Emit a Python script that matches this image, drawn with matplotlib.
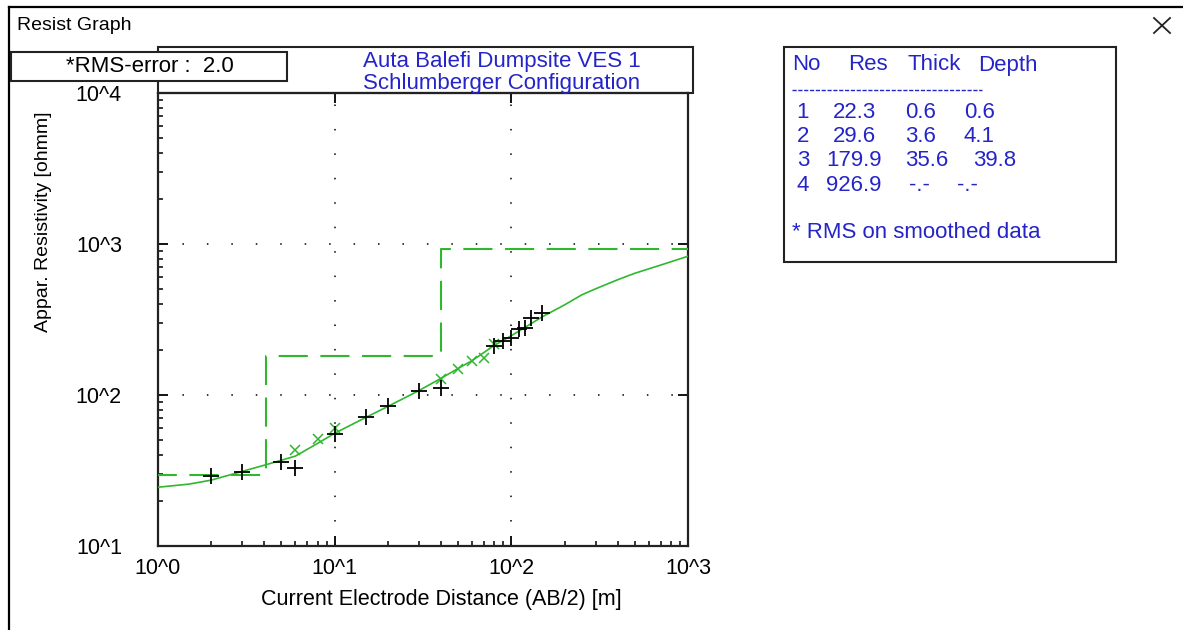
import numpy as np
import matplotlib
matplotlib.use("Agg")
import matplotlib.pyplot as plt
from matplotlib.patches import Rectangle
from matplotlib.lines import Line2D
from matplotlib.ticker import LogLocator, FuncFormatter, NullFormatter

# calculated model response (green line)
curve_ab2 = [1, 1.5, 2, 3, 4, 5, 6, 8, 10, 15, 20, 30, 40, 50, 60, 80, 100, 150,
             200, 250, 300, 400, 500, 700, 1000]
curve_res = [24.5, 25.7, 27.3, 31.2, 34.3, 37.0, 39.4, 47.8, 55.8, 71, 84, 107, 129, 150, 169, 213, 247, 330,
             395, 460, 505, 580, 640, 725, 830]

# field data (black +)
obs_ab2 = [2, 3, 5, 6, 10, 15, 20, 30, 40, 80, 90, 100, 110, 120, 130, 150]
obs_res = [29.3, 30.8, 35.8, 32.7, 55.5, 71, 85, 107, 112, 212, 229, 237, 274, 276, 322, 347]

# smoothed data (green x)
smooth_ab2 = [6, 8, 10, 40, 50, 60, 70, 80]
smooth_res = [43, 51, 60, 128, 149, 168, 176, 218]

# layer model
layer_no = [1, 2, 3, 4]
layer_res = [22.3, 29.6, 179.9, 926.9]
layer_thick = [0.6, 3.6, 35.6, None]
layer_depth = [0.6, 4.1, 39.8, None]

rms_error = 2.0
title_lines = ["Auta Balefi Dumpsite VES 1", "Schlumberger Configuration"]

W, H = 1183, 630
GREEN = "#2fb82f"
BLUE = "#2424c8"
FONT = "Liberation Sans"

plt.rcParams["font.family"] = [FONT, "DejaVu Sans"]


def fx(x):
    return x / W


def fy(y):
    return 1 - y / H


fig = plt.figure(figsize=(W / 100, H / 100), dpi=100)
fig.patch.set_facecolor("white")

# main axes, placed in pixel terms
left, right, top, bottom = 158, 688, 93, 546
ax = fig.add_axes([fx(left), fy(bottom), (right - left) / W, (bottom - top) / H])
ax.set_xscale("log")
ax.set_yscale("log")
ax.set_xlim(1, 1000)
ax.set_ylim(10, 10000)

# model steps
edges = [0.1] + layer_depth[:3] + [1000]
steps = layer_res + [layer_res[-1]]
ax.step(edges, steps, where="post", color=GREEN, lw=1.5, dashes=(14, 6), zorder=3)

ax.plot(curve_ab2, curve_res, color=GREEN, lw=1.2, zorder=4)
ax.plot(smooth_ab2, smooth_res, linestyle="none", marker="x", color=GREEN,
        ms=6.5, mew=1.1, zorder=5)
ax.plot(obs_ab2, obs_res, linestyle="none", marker="+", color="black",
        ms=11, mew=1.3, zorder=6)

# dotted grid at decades
ax.grid(True, which="major", color="black", lw=1.1, linestyle=(0, (1, 15)))
ax.grid(False, which="minor")

fmt = FuncFormatter(lambda v, p: f"10^{int(round(np.log10(v)))}")
for axis in (ax.xaxis, ax.yaxis):
    axis.set_major_locator(LogLocator(base=10, numticks=10))
    axis.set_minor_locator(LogLocator(base=10, subs=np.arange(2, 10), numticks=10))
    axis.set_major_formatter(fmt)
    axis.set_minor_formatter(NullFormatter())

ax.tick_params(which="major", direction="in", length=7, width=1.3,
               top=True, right=True, labelsize=15.5, colors="black")
ax.tick_params(which="minor", direction="in", length=3.5, width=1.1,
               top=False, right=False)
ax.tick_params(axis="x", which="major", pad=9)
ax.tick_params(axis="y", which="major", pad=26)
for s in ax.spines.values():
    s.set_linewidth(1.6)
    s.set_color("#222222")

# axis labels placed like the original window
fig.text(fx(441), fy(600), "Current Electrode Distance (AB/2) [m]",
         ha="center", va="center", fontsize=15.5)
fig.text(fx(44), fy(222), "Appar. Resistivity [ohmm]", rotation=90,
         ha="center", va="center", fontsize=14)

# window frame
fig.add_artist(Line2D([fx(9), fx(W)], [fy(7), fy(7)], color="black", lw=1.6))
fig.add_artist(Line2D([fx(9), fx(9)], [fy(7), fy(H)], color="black", lw=1.6))
fig.text(fx(17), fy(25), "Resist Graph", ha="left", va="center", fontsize=14)
fig.add_artist(Line2D([fx(1154), fx(1170)], [fy(18), fy(33)], color="#222222", lw=1.3))
fig.add_artist(Line2D([fx(1154), fx(1170)], [fy(33), fy(18)], color="#222222", lw=1.3))

# header box with title
fig.add_artist(Rectangle((fx(158), fy(93)), (693 - 158) / W, (93 - 47) / H,
                         facecolor="none", edgecolor="#222222", lw=1.5, zorder=2))
fig.text(fx(502), fy(62), title_lines[0], ha="center", va="center",
         fontsize=16, color=BLUE)
fig.text(fx(502), fy(84), title_lines[1], ha="center", va="center",
         fontsize=16, color=BLUE)

# RMS box
fig.add_artist(Rectangle((fx(11), fy(81)), (287 - 11) / W, (81 - 52) / H,
                         facecolor="white", edgecolor="#222222", lw=1.5, zorder=3))
fig.text(fx(150), fy(67), f"*RMS-error :  {rms_error:.1f}", ha="center",
         va="center", fontsize=16, zorder=4)

# layer table box
fig.add_artist(Rectangle((fx(784), fy(262)), (1116 - 784) / W, (262 - 47) / H,
                         facecolor="white", edgecolor="#222222", lw=1.5, zorder=2))
head_y = 65
for label, x in zip(["No", "Res", "Thick", "Depth"], [792, 848, 908, 978]):
    fig.text(fx(x), fy(head_y), label, ha="left", va="center", fontsize=16,
             color=BLUE, zorder=4)
fig.add_artist(Line2D([fx(792), fx(982)], [fy(90), fy(90)], color=BLUE, lw=1,
                      dashes=(3, 1.2), zorder=4))
row_y = [112, 136.5, 161, 185.5]
for no, res, th, dp, y in zip(layer_no, layer_res, layer_thick, layer_depth, row_y):
    kw = dict(va="center", fontsize=16, color=BLUE, zorder=4)
    fig.text(fx(803), fy(y), str(no), ha="center", **kw)
    fig.text(fx(854), fy(y), f"{res:.1f}", ha="center", **kw)
    if th is None:
        fig.text(fx(919), fy(y), "-.-", ha="center", **kw)
    else:
        fig.text(fx(905), fy(y), f"{th:.1f}", ha="left", **kw)
    if dp is None:
        fig.text(fx(967), fy(y), "-.-", ha="center", **kw)
    else:
        fig.text(fx(964 if dp < 10 else 973), fy(y), f"{dp:.1f}", ha="left", **kw)
fig.text(fx(792), fy(232), "* RMS on smoothed data", ha="left", va="center",
         fontsize=16, color=BLUE, zorder=4)

fig.savefig("out.png", dpi=100)
